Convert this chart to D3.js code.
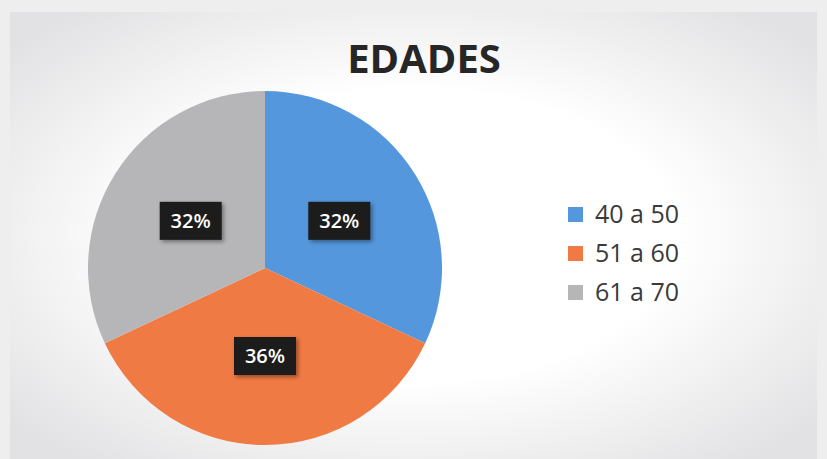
<!DOCTYPE html>
<html>
<head>
<meta charset="utf-8">
<script src="https://d3js.org/d3.v7.min.js"></script>
<style>
  body { margin: 0; }
</style>
</head>
<body>
<script>
var w = 827, h = 459;
var categories = ["40 a 50", "51 a 60", "61 a 70"];
var values = [32, 36, 32];
var labels = ["32%", "36%", "32%"];
var colors = ["#5597dc", "#f07a43", "#b6b6b9"];

var svg = d3.select("body").append("svg")
  .attr("width", w)
  .attr("height", h);

var defs = svg.append("defs");
var grad = defs.append("radialGradient").attr("id", "bg")
  .attr("cx", "50%").attr("cy", "50%").attr("r", "65%");
grad.append("stop").attr("offset", "50%").attr("stop-color", "#ffffff");
grad.append("stop").attr("offset", "100%").attr("stop-color", "#e2e2e4");

var shadow = defs.append("filter").attr("id", "sh")
  .attr("x", "-20%").attr("y", "-20%").attr("width", "150%").attr("height", "150%");
shadow.append("feDropShadow").attr("dx", 2).attr("dy", 2)
  .attr("stdDeviation", 2).attr("flood-color", "#000").attr("flood-opacity", 0.4);

svg.append("rect").attr("width", w).attr("height", h).attr("fill", "#eeeeef");
svg.append("rect").attr("x", 10).attr("y", 12).attr("width", w - 20).attr("height", h - 12)
  .attr("fill", "url(#bg)");

svg.append("text")
  .attr("x", 424).attr("y", 73)
  .attr("text-anchor", "middle")
  .attr("font-family", "Open Sans, sans-serif")
  .attr("font-weight", "bold")
  .attr("font-size", 40)
  .attr("fill", "#262626")
  .text("EDADES");

var cx = 265, cy = 268, r = 177;
var pie = d3.pie().sort(null)(values);
var arc = d3.arc().innerRadius(0).outerRadius(r);
var labelArc = d3.arc().innerRadius(88).outerRadius(88);

var g = svg.append("g").attr("transform", "translate(" + cx + "," + cy + ")");
g.selectAll("path")
  .data(pie)
  .enter()
  .append("path")
  .attr("d", arc)
  .attr("fill", function (d, i) { return colors[i]; });

var lab = g.selectAll("g.lab")
  .data(pie)
  .enter()
  .append("g")
  .attr("class", "lab")
  .attr("transform", function (d) { return "translate(" + labelArc.centroid(d) + ")"; });

lab.append("rect")
  .attr("x", -31).attr("y", -19).attr("width", 62).attr("height", 38)
  .attr("fill", "#1c1d1f")
  .attr("filter", "url(#sh)");

lab.append("text")
  .attr("text-anchor", "middle")
  .attr("dy", "0.36em")
  .attr("font-family", "Open Sans, sans-serif")
  .attr("font-weight", "600")
  .attr("font-size", 20)
  .attr("fill", "#ffffff")
  .text(function (d, i) { return labels[i]; });

var legend = svg.selectAll("g.leg")
  .data(categories)
  .enter()
  .append("g")
  .attr("class", "leg")
  .attr("transform", function (d, i) { return "translate(568," + (207 + i * 39) + ")"; });

legend.append("rect")
  .attr("width", 15).attr("height", 15)
  .attr("fill", function (d, i) { return colors[i]; });

legend.append("text")
  .attr("x", 27).attr("y", 16)
  .attr("font-family", "Open Sans, sans-serif")
  .attr("font-size", 25)
  .attr("fill", "#3a3a3a")
  .text(function (d) { return d; });
</script>
</body>
</html>
